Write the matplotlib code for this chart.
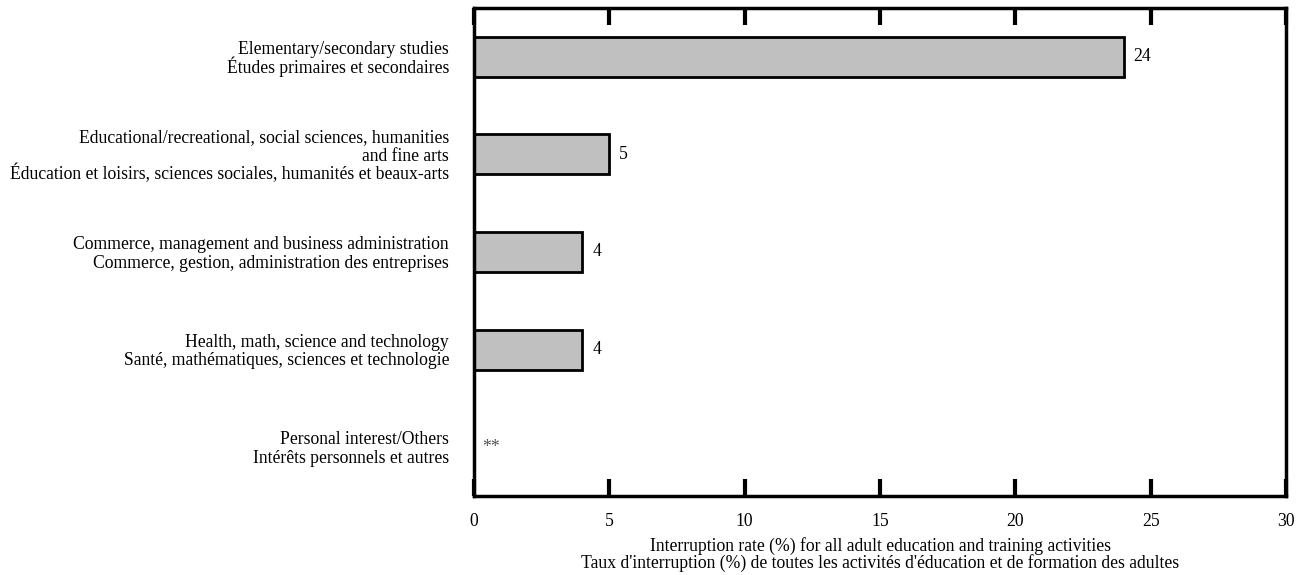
import matplotlib
matplotlib.use('Agg')
import matplotlib.pyplot as plt

plt.rcParams['font.family'] = ['Liberation Serif', 'DejaVu Serif']

# data
categories = [
    'Elementary/secondary studies\nÉtudes primaires et secondaires',
    'Educational/recreational, social sciences, humanities\nand fine arts\n'
    'Éducation et loisirs, sciences sociales, humanités et beaux-arts',
    'Commerce, management and business administration\nCommerce, gestion, administration des entreprises',
    'Health, math, science and technology\nSanté, mathématiques, sciences et technologie',
    'Personal interest/Others\nIntérêts personnels et autres',
]
values = [24, 5, 4, 4, None]
value_labels = ['24', '5', '4', '4', '**']
xticks = [0, 5, 10, 15, 20, 25, 30]
xlabel = ('Interruption rate (%) for all adult education and training activities\n'
          "Taux d'interruption (%) de toutes les activités d'éducation et de formation des adultes")

FS = 12.7
PX = 0.72  # points per pixel at 100 dpi

fig = plt.figure(figsize=(13.04, 5.75), dpi=100)
ax = fig.add_axes([474/1304, 1 - 496/575, (1286-474)/1304, (496-8)/575])

ypos = list(range(len(categories)))
for y, v, lab in zip(ypos, values, value_labels):
    if v is not None:
        ax.barh(y, v, height=0.41, color='#c0c0c0', edgecolor='black', linewidth=2)
        ax.text(v + 0.37, y, lab, va='center', ha='left', fontsize=FS)
    else:
        ax.text(0.3, y, lab, va='center', ha='left', fontsize=FS, color='#555555')

# category labels, one line at a time so the spacing stays even
for y, cat in zip(ypos, categories):
    lines = cat.split('\n')
    n = len(lines)
    for i, line in enumerate(lines):
        dy = -((i - (n - 1) / 2) * 18.5 + 6.5) * PX
        ax.annotate(line, xy=(0, y), xycoords=('axes fraction', 'data'),
                    xytext=(-25 * PX, dy), textcoords='offset points',
                    ha='right', va='baseline', fontsize=FS)

ax.set_ylim(len(categories) - 0.5, -0.5)
ax.set_xlim(0, 30)
ax.set_yticks([])
ax.set_xticks(xticks)
ax.tick_params(axis='x', direction='in', length=12, width=3, top=True, labelsize=FS, pad=12)
ax.set_xlabel(xlabel, fontsize=FS, labelpad=5, linespacing=1.0)
for s in ax.spines.values():
    s.set_linewidth(2.5)

fig.savefig('out.png', dpi=100)
